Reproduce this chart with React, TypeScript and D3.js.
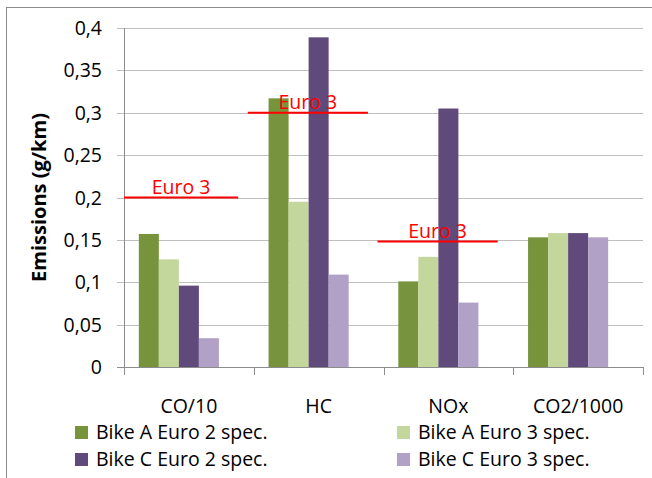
import React from "react";
import * as d3 from "d3";

const categories = ["CO/10", "HC", "NOx", "CO2/1000"];
const seriesNames = [
  "Bike A Euro 2 spec.",
  "Bike A Euro 3 spec.",
  "Bike C Euro 2 spec.",
  "Bike C Euro 3 spec.",
];
const bikeAEuro2 = [0.157, 0.317, 0.101, 0.153];
const bikeAEuro3 = [0.127, 0.195, 0.13, 0.158];
const bikeCEuro2 = [0.096, 0.389, 0.305, 0.158];
const bikeCEuro3 = [0.034, 0.109, 0.076, 0.153];
const limitCategories = ["CO/10", "HC", "NOx"];
const limitValues = [0.2, 0.3, 0.148];
const limitLabel = "Euro 3";
const yTicks = [0, 0.05, 0.1, 0.15, 0.2, 0.25, 0.3, 0.35, 0.4];
const yTitle = "Emissions (g/km)";

const colors = ["#77933C", "#C3D69B", "#604A7B", "#B2A1C7"];
const FONT = "'Open Sans', sans-serif";

export default function App() {
  const W = 652, H = 478;
  const left = 124, right = 643, top = 28, bottom = 367;
  const values = [bikeAEuro2, bikeAEuro3, bikeCEuro2, bikeCEuro3];

  const x = d3.scaleBand<string>().domain(categories).range([left, right]).padding(0);
  const sub = d3
    .scaleBand<string>()
    .domain([...seriesNames, "_gap"])
    .range([0, x.bandwidth()])
    .paddingInner(0)
    .paddingOuter(0.74);
  const y = d3.scaleLinear().domain([0, 0.4]).range([bottom, top]);
  const fmt = d3
    .formatLocale({ decimal: ",", thousands: ".", grouping: [3], currency: ["", ""] })
    .format(".2~f");

  const catTicks = [...categories.map((c) => x(c) as number), right];

  return (
    <svg width={W} height={H} style={{ position: "absolute", left: 0, top: 0 }}>
      <rect x={0} y={0} width={W} height={H} fill="#fff" />
      <rect x={6.5} y={7.5} width={W + 10} height={H + 10} fill="none" stroke="#8c8c8c" strokeWidth={1} />
      {/* gridlines */}
      {yTicks.map((t) => (
        <line key={"g" + t} x1={left - 7} x2={right} y1={Math.round(y(t)) + 0.5} y2={Math.round(y(t)) + 0.5}
          stroke={t === 0 ? "#8c8c8c" : "#bfbfbf"} strokeWidth={1} />
      ))}
      {/* y axis */}
      <line x1={left + 0.5} x2={left + 0.5} y1={top} y2={bottom} stroke="#8c8c8c" />
      {yTicks.map((t) => (
        <text key={"yl" + t} x={102} y={y(t)} dy="0.36em" textAnchor="end" fontFamily={FONT} fontSize={19.5} fill="#000">
          {fmt(t)}
        </text>
      ))}
      {/* x axis ticks */}
      {catTicks.map((cx, i) => (
        <line key={"xt" + i} x1={Math.round(cx) + 0.5} x2={Math.round(cx) + 0.5} y1={bottom} y2={bottom + 8} stroke="#8c8c8c" />
      ))}
      {categories.map((c) => (
        <text key={"xl" + c} x={(x(c) as number) + x.bandwidth() / 2} y={413} textAnchor="middle" fontFamily={FONT} fontSize={19.5} fill="#000">
          {c}
        </text>
      ))}
      {/* bars */}
      {seriesNames.map((s, si) =>
        categories.map((c, ci) => (
          <rect key={s + c} x={(x(c) as number) + (sub(s) as number)} width={sub.bandwidth()}
            y={y(values[si][ci])} height={bottom - y(values[si][ci])} fill={colors[si]} />
        ))
      )}
      {/* Euro 3 limits */}
      {limitCategories.map((c, i) => {
        const x0 = Math.max((x(c) as number) - 6, left);
        const x1 = (x(c) as number) + x.bandwidth() * 0.88;
        const yy = y(limitValues[i]);
        return (
          <g key={"lim" + c}>
            <line x1={x0} x2={x1} y1={yy} y2={yy} stroke="#ff0000" strokeWidth={2} />
            <text x={(x0 + x1) / 2} y={yy - 4} textAnchor="middle" fontFamily={FONT} fontSize={19.5} fill="#ff0000">
              {limitLabel}
            </text>
          </g>
        );
      })}
      {/* y title */}
      <text transform={`translate(46,${(top + bottom) / 2}) rotate(-90)`} textAnchor="middle" fontFamily={FONT}
        fontSize={19} fontWeight="bold" fill="#000" textLength={169} lengthAdjust="spacingAndGlyphs">
        {yTitle}
      </text>
      {/* legend */}
      {seriesNames.map((s, i) => {
        const col = i % 2, row = Math.floor(i / 2);
        const sx = col === 0 ? 75 : 397;
        const sy = 426 + row * 27;
        return (
          <g key={"lg" + s}>
            <rect x={sx} y={sy} width={13} height={13} fill={colors[i]} />
            <text x={sx + 21} y={sy + 13} fontFamily={FONT} fontSize={19.5} fill="#000">
              {s}
            </text>
          </g>
        );
      })}
    </svg>
  );
}
